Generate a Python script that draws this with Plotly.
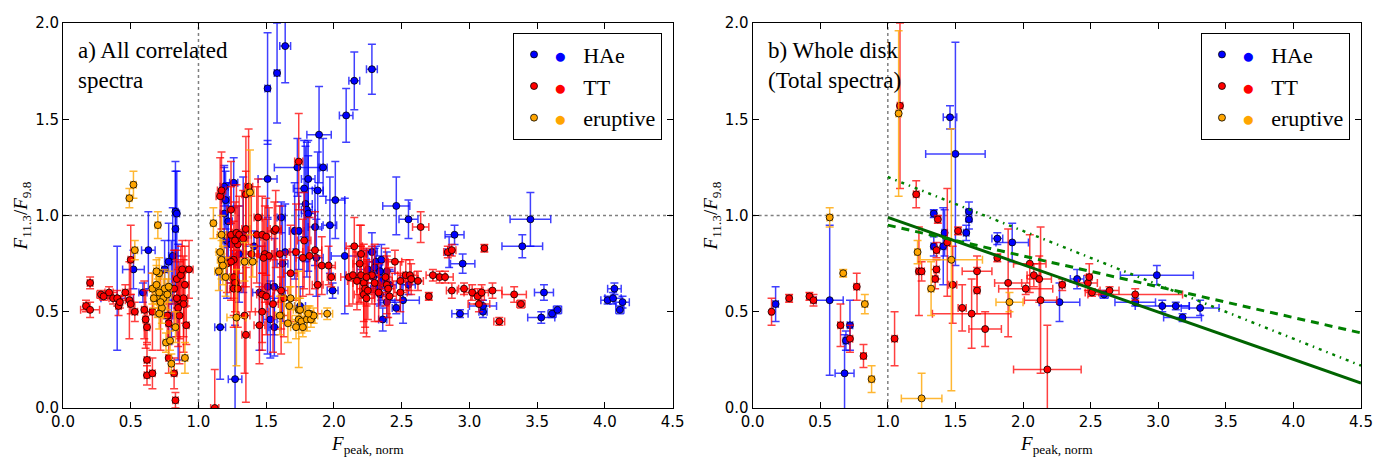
import plotly.graph_objects as go

# ---------------- data: (x, y, xerr, yerr) rows ----------------
HAE_A = [
    (0.40, 0.57, 0.12, 0.27), (0.59, 0.60, 0.03, 0.05), (0.63, 0.82, 0.05, 0.20), (0.52, 0.72, 0.08, 0.10),
    (0.83, 1.02, 0.02, 0.26), (0.84, 1.01, 0.02, 0.22), (0.83, 0.93, 0.02, 0.30), (0.81, 0.79, 0.03, 0.25),
    (0.78, 0.76, 0.02, 0.20), (0.80, 0.62, 0.03, 0.25), (0.85, 0.55, 0.02, 0.30), (0.78, 0.48, 0.03, 0.15),
    (0.75, 0.72, 0.02, 0.15), (1.16, 0.42, 0.04, 0.27), (1.27, 0.15, 0.05, 0.28), (1.19, 1.15, 0.03, 0.10),
    (1.26, 1.17, 0.03, 0.13), (1.20, 1.08, 0.03, 0.15), (1.19, 1.01, 0.03, 0.25), (1.21, 0.87, 0.03, 0.30),
    (1.24, 0.85, 0.04, 0.20), (1.22, 0.97, 0.03, 0.20), (1.30, 0.80, 0.05, 0.25), (1.41, 0.84, 0.08, 0.08),
    (1.51, 1.66, 0.02, 0.29), (1.58, 1.74, 0.02, 0.26), (1.64, 1.88, 0.04, 0.19), (1.51, 1.19, 0.07, 0.20),
    (1.73, 1.25, 0.17, 0.15), (1.89, 1.42, 0.09, 0.25), (1.92, 1.25, 0.03, 0.15), (2.09, 1.52, 0.05, 0.14),
    (2.15, 1.70, 0.04, 0.15), (2.28, 1.76, 0.04, 0.13), (1.81, 1.19, 0.05, 0.20), (1.78, 1.14, 0.08, 0.25),
    (1.88, 1.13, 0.04, 0.20), (2.01, 1.08, 0.07, 0.20), (1.97, 0.95, 0.05, 0.25), (2.46, 1.05, 0.10, 0.15),
    (2.55, 0.98, 0.07, 0.10), (1.61, 0.99, 0.03, 0.08), (1.79, 1.06, 0.05, 0.30), (1.80, 1.03, 0.04, 0.35),
    (1.81, 1.01, 0.05, 0.30), (1.86, 0.94, 0.05, 0.20), (1.71, 0.92, 0.04, 0.25), (1.74, 0.92, 0.04, 0.20),
    (1.64, 0.81, 0.06, 0.25), (1.51, 0.63, 0.04, 0.35), (1.56, 0.63, 0.04, 0.25), (1.53, 0.46, 0.05, 0.20),
    (1.56, 0.42, 0.04, 0.15), (1.75, 0.53, 0.04, 0.10), (2.08, 0.79, 0.10, 0.30), (1.99, 0.61, 0.04, 0.04),
    (1.87, 0.78, 0.05, 0.20), (2.28, 0.81, 0.04, 0.10), (2.31, 0.76, 0.05, 0.08), (2.35, 0.77, 0.04, 0.08),
    (2.30, 0.73, 0.05, 0.10), (2.34, 0.71, 0.04, 0.08), (2.39, 0.71, 0.06, 0.10), (2.35, 0.66, 0.05, 0.10),
    (2.29, 0.68, 0.06, 0.08), (2.41, 0.64, 0.05, 0.08), (2.39, 0.55, 0.06, 0.08), (2.34, 0.59, 0.04, 0.06),
    (2.36, 0.46, 0.03, 0.06), (2.46, 0.52, 0.03, 0.03), (2.51, 0.56, 0.12, 0.12), (2.55, 0.64, 0.05, 0.05),
    (2.89, 0.90, 0.07, 0.05), (2.85, 0.81, 0.03, 0.08), (2.95, 0.75, 0.09, 0.05), (3.45, 0.98, 0.15, 0.14),
    (3.39, 0.84, 0.15, 0.06), (3.55, 0.60, 0.07, 0.04), (3.53, 0.47, 0.10, 0.03), (3.61, 0.49, 0.03, 0.02),
    (3.65, 0.51, 0.03, 0.02), (4.07, 0.62, 0.05, 0.03), (4.02, 0.56, 0.05, 0.02), (4.06, 0.57, 0.06, 0.03),
    (4.13, 0.55, 0.05, 0.03), (4.11, 0.51, 0.03, 0.02), (2.93, 0.49, 0.06, 0.02), (3.10, 0.50, 0.03, 0.03),
    (3.10, 0.53, 0.10, 0.03), (2.25, 0.72, 0.08, 0.10), (2.33, 0.62, 0.06, 0.08), (1.45, 0.60, 0.05, 0.30),
    (1.33, 0.90, 0.04, 0.30), (1.62, 0.75, 0.04, 0.30),
]

TT_A = [
    (0.17, 0.53, 0.02, 0.03), (0.20, 0.51, 0.07, 0.04), (0.20, 0.65, 0.02, 0.03), (0.28, 0.59, 0.03, 0.02),
    (0.30, 0.58, 0.03, 0.02), (0.34, 0.60, 0.03, 0.03), (0.37, 0.57, 0.03, 0.03), (0.40, 0.57, 0.03, 0.04),
    (0.41, 0.53, 0.02, 0.05), (0.42, 0.55, 0.02, 0.03), (0.46, 0.60, 0.02, 0.04), (0.49, 0.56, 0.03, 0.20),
    (0.50, 0.77, 0.02, 0.18), (0.50, 0.54, 0.02, 0.05), (0.53, 0.50, 0.02, 0.05), (0.60, 0.51, 0.02, 0.15),
    (0.61, 0.46, 0.02, 0.15), (0.62, 0.42, 0.02, 0.08), (0.62, 0.25, 0.02, 0.08), (0.62, 0.17, 0.02, 0.05),
    (0.66, 0.18, 0.02, 0.08), (0.66, 0.50, 0.02, 0.20), (0.78, 0.44, 0.02, 0.10), (0.78, 0.26, 0.02, 0.08),
    (0.82, 0.18, 0.02, 0.08), (0.83, 0.04, 0.02, 0.04), (0.84, 0.67, 0.03, 0.15), (0.87, 0.69, 0.03, 0.15),
    (0.88, 0.72, 0.03, 0.15), (0.90, 0.64, 0.03, 0.20), (0.93, 0.72, 0.03, 0.15), (0.86, 0.56, 0.03, 0.20),
    (0.89, 0.57, 0.03, 0.20), (0.89, 0.54, 0.03, 0.25), (0.86, 0.48, 0.03, 0.25), (0.91, 0.43, 0.02, 0.10),
    (0.82, 0.62, 0.03, 0.20), (0.84, 0.57, 0.03, 0.20), (0.85, 0.52, 0.02, 0.20), (0.77, 0.48, 0.03, 0.15),
    (0.72, 0.50, 0.02, 0.20),
    (1.12, 0.00, 0.03, 0.20), (1.16, 1.10, 0.03, 0.20), (1.17, 1.13, 0.03, 0.20), (1.24, 1.03, 0.03, 0.25),
    (1.24, 0.90, 0.03, 0.25), (1.26, 0.77, 0.03, 0.20), (1.29, 0.85, 0.04, 0.20), (1.28, 0.91, 0.03, 0.25),
    (1.30, 0.90, 0.04, 0.20), (1.27, 0.87, 0.03, 0.20), (1.21, 0.75, 0.03, 0.15), (1.24, 0.76, 0.04, 0.20),
    (1.26, 0.68, 0.03, 0.20), (1.27, 0.65, 0.03, 0.15), (1.26, 0.62, 0.03, 0.20), (1.29, 0.62, 0.03, 0.20),
    (1.33, 0.88, 0.03, 0.25), (1.35, 0.93, 0.03, 0.30), (1.35, 1.11, 0.03, 0.30), (1.37, 1.15, 0.03, 0.30),
    (1.34, 0.48, 0.04, 0.30), (1.35, 0.38, 0.03, 0.35), (1.44, 0.99, 0.03, 0.20), (1.43, 0.90, 0.04, 0.25),
    (1.47, 0.90, 0.04, 0.20), (1.50, 0.89, 0.04, 0.20), (1.56, 0.92, 0.05, 0.15), (1.57, 0.93, 0.04, 0.20),
    (1.49, 0.80, 0.05, 0.25), (1.52, 0.79, 0.05, 0.25), (1.48, 0.78, 0.05, 0.20), (1.47, 0.59, 0.04, 0.25),
    (1.50, 0.58, 0.05, 0.20), (1.47, 0.50, 0.05, 0.20), (1.45, 0.43, 0.04, 0.20), (1.55, 0.54, 0.04, 0.25),
    (1.61, 0.61, 0.05, 0.20), (1.63, 0.57, 0.04, 0.20), (1.61, 0.48, 0.05, 0.20), (1.72, 0.81, 0.05, 0.25),
    (1.74, 1.28, 0.03, 0.25), (1.78, 0.87, 0.05, 0.25), (1.77, 0.78, 0.05, 0.20), (1.82, 0.79, 0.05, 0.20),
    (1.86, 0.82, 0.05, 0.20), (1.88, 0.64, 0.04, 0.15), (1.91, 0.74, 0.05, 0.15), (1.96, 0.74, 0.05, 0.10),
    (1.98, 0.68, 0.03, 0.05), (1.39, 0.80, 0.05, 0.30), (1.60, 0.80, 0.05, 0.25), (1.68, 0.70, 0.05, 0.25),
    (2.11, 0.68, 0.06, 0.15), (2.14, 0.69, 0.05, 0.15), (2.15, 0.84, 0.06, 0.15), (2.19, 0.75, 0.05, 0.20),
    (2.20, 0.80, 0.04, 0.15), (2.20, 0.69, 0.07, 0.15), (2.17, 0.66, 0.07, 0.15), (2.22, 0.65, 0.08, 0.20),
    (2.23, 0.62, 0.06, 0.20), (2.22, 0.59, 0.07, 0.20), (2.24, 0.57, 0.06, 0.20), (2.25, 0.61, 0.06, 0.15),
    (2.28, 0.69, 0.05, 0.15), (2.24, 0.68, 0.06, 0.15), (2.38, 0.68, 0.05, 0.15), (2.39, 0.64, 0.05, 0.15),
    (2.40, 0.62, 0.05, 0.15), (2.41, 0.58, 0.05, 0.15), (2.45, 0.76, 0.05, 0.06), (2.49, 0.66, 0.06, 0.10),
    (2.49, 0.60, 0.05, 0.10), (2.53, 0.69, 0.06, 0.08), (2.56, 0.69, 0.05, 0.08), (2.57, 0.67, 0.05, 0.08),
    (2.62, 0.66, 0.04, 0.05), (2.64, 0.94, 0.06, 0.08), (2.70, 0.58, 0.02, 0.02), (2.73, 0.69, 0.05, 0.03),
    (2.78, 0.68, 0.05, 0.03), (2.82, 0.68, 0.06, 0.03), (2.84, 0.81, 0.03, 0.03), (2.87, 0.82, 0.03, 0.03),
    (2.87, 0.61, 0.04, 0.04), (2.96, 0.62, 0.04, 0.03), (3.02, 0.60, 0.06, 0.04), (3.06, 0.58, 0.05, 0.04),
    (3.09, 0.60, 0.05, 0.04), (3.17, 0.61, 0.07, 0.04), (3.07, 0.54, 0.08, 0.04), (3.11, 0.83, 0.02, 0.02),
    (3.22, 0.45, 0.04, 0.02), (3.33, 0.59, 0.09, 0.04), (3.38, 0.54, 0.03, 0.02), (2.30, 0.65, 0.06, 0.20),
    (2.33, 0.60, 0.08, 0.15),
]

ERU_A = [
    (0.49, 1.09, 0.02, 0.05), (0.52, 1.16, 0.02, 0.07), (0.53, 0.82, 0.02, 0.05), (0.70, 0.95, 0.02, 0.07),
    (0.66, 0.62, 0.02, 0.08), (0.69, 0.64, 0.03, 0.10), (0.71, 0.70, 0.02, 0.08), (0.70, 0.57, 0.03, 0.10),
    (0.74, 0.57, 0.03, 0.10), (0.73, 0.52, 0.02, 0.08), (0.71, 0.49, 0.03, 0.08), (0.75, 0.62, 0.03, 0.10),
    (0.78, 0.63, 0.02, 0.08), (0.67, 0.57, 0.02, 0.05), (0.71, 0.60, 0.03, 0.08), (0.76, 0.34, 0.02, 0.05),
    (0.79, 0.35, 0.02, 0.05), (0.80, 0.23, 0.02, 0.05), (0.83, 0.42, 0.02, 0.08), (0.90, 0.26, 0.02, 0.08),
    (0.69, 0.71, 0.02, 0.06), (0.72, 0.55, 0.03, 0.06), (0.77, 0.59, 0.03, 0.08),
    (1.11, 0.96, 0.02, 0.08), (1.17, 0.90, 0.03, 0.10), (1.16, 0.81, 0.03, 0.08), (1.17, 0.77, 0.03, 0.10),
    (1.18, 0.74, 0.03, 0.10), (1.15, 0.71, 0.03, 0.10), (1.20, 0.68, 0.03, 0.10), (1.28, 0.47, 0.07, 0.25),
    (1.34, 0.76, 0.03, 0.10), (1.40, 0.76, 0.03, 0.08), (1.38, 1.12, 0.03, 0.22), (1.60, 0.48, 0.03, 0.10),
    (1.67, 0.53, 0.04, 0.10), (1.68, 0.57, 0.04, 0.06), (1.66, 0.44, 0.05, 0.10), (1.74, 0.51, 0.04, 0.06),
    (1.75, 0.51, 0.03, 0.06), (1.74, 0.46, 0.05, 0.25), (1.72, 0.42, 0.04, 0.06), (1.76, 0.45, 0.04, 0.06),
    (1.77, 0.42, 0.03, 0.05), (1.80, 0.46, 0.03, 0.06), (1.82, 0.49, 0.03, 0.04), (1.83, 0.46, 0.03, 0.04),
    (1.85, 0.48, 0.03, 0.04), (1.95, 0.49, 0.04, 0.03), (1.81, 0.49, 0.03, 0.04),
]

HAE_B = [
    (0.17, 0.54, 0.02, 0.09), (0.57, 0.56, 0.10, 0.39), (0.68, 0.18, 0.07, 0.20), (0.69, 0.35, 0.02, 0.05),
    (0.72, 0.43, 0.02, 0.13), (1.34, 1.01, 0.02, 0.02), (1.34, 0.84, 0.02, 0.05), (1.42, 0.91, 0.02, 0.12),
    (1.41, 0.84, 0.02, 0.20), (1.46, 1.51, 0.05, 0.06), (1.50, 1.32, 0.22, 0.58), (1.58, 0.91, 0.02, 0.04),
    (1.60, 0.98, 0.02, 0.05), (1.60, 1.02, 0.02, 0.05), (1.81, 0.88, 0.04, 0.03), (1.92, 0.86, 0.12, 0.10),
    (2.27, 0.55, 0.15, 0.10), (2.40, 0.67, 0.05, 0.05), (2.60, 0.59, 0.03, 0.02), (2.83, 0.55, 0.15, 0.02),
    (2.99, 0.69, 0.27, 0.05), (3.03, 0.53, 0.20, 0.03), (3.13, 0.53, 0.10, 0.02), (3.18, 0.47, 0.14, 0.02),
    (3.31, 0.52, 0.14, 0.04),
]

TT_B = [
    (0.14, 0.50, 0.01, 0.07), (0.27, 0.57, 0.02, 0.02), (0.42, 0.58, 0.02, 0.02), (0.45, 0.56, 0.02, 0.03),
    (0.65, 0.43, 0.02, 0.11), (0.72, 0.36, 0.02, 0.07), (0.77, 0.63, 0.02, 0.07), (0.82, 0.27, 0.02, 0.06),
    (1.09, 1.57, 0.02, 0.43), (1.21, 1.11, 0.02, 0.07), (1.05, 0.36, 0.02, 0.14), (1.23, 0.71, 0.02, 0.23),
    (1.25, 0.71, 0.02, 0.05), (1.37, 0.98, 0.02, 0.02), (1.36, 0.82, 0.02, 0.04), (1.36, 0.72, 0.02, 0.05),
    (1.35, 0.67, 0.02, 0.05), (1.44, 0.86, 0.02, 0.28), (1.52, 0.92, 0.02, 0.02), (1.48, 0.64, 0.03, 0.20),
    (1.55, 0.52, 0.03, 0.12), (1.62, 0.49, 0.29, 0.18), (1.66, 0.71, 0.11, 0.08), (1.66, 0.61, 0.02, 0.12),
    (1.72, 0.41, 0.12, 0.09), (1.81, 0.78, 0.02, 0.02), (1.89, 0.65, 0.10, 0.28), (2.02, 0.62, 0.20, 0.03),
    (2.05, 0.75, 0.12, 0.15), (2.08, 0.69, 0.05, 0.06), (2.12, 0.67, 0.09, 0.12), (2.13, 0.56, 0.12, 0.38),
    (2.18, 0.20, 0.25, 0.23), (2.29, 0.64, 0.02, 0.03), (2.48, 0.65, 0.07, 0.04), (2.49, 0.68, 0.02, 0.07),
    (2.51, 0.60, 0.05, 0.02), (2.64, 0.61, 0.07, 0.02), (2.83, 0.59, 0.35, 0.03),
]

ERU_B = [
    (0.57, 0.99, 0.02, 0.05), (0.67, 0.70, 0.02, 0.02), (0.83, 0.54, 0.02, 0.05), (0.88, 0.15, 0.02, 0.07),
    (1.08, 1.53, 0.02, 0.43), (1.22, 0.81, 0.02, 0.06), (1.32, 0.62, 0.02, 0.14), (1.47, 0.77, 0.23, 0.68),
    (1.25, 0.05, 0.15, 0.13), (1.90, 0.55, 0.10, 0.05),
]

# model relations in panel b
FIT_X = [1.0, 4.5]
FIT_SOLID_Y = [0.99, 0.13]
FIT_DASH_Y = [0.95, 0.39]
FIT_DOT_Y = [1.20, 0.22]

GROUPS = ["HAe", "TT", "eruptive"]
COLORS = {"HAe": "#0000ff", "TT": "#ff0000", "eruptive": "#ffa500"}
BAR_COLORS = {"HAe": "rgba(0,0,255,0.75)", "TT": "rgba(255,0,0,0.75)", "eruptive": "rgba(255,165,0,0.8)"}

X_TICKS = [0.0, 0.5, 1.0, 1.5, 2.0, 2.5, 3.0, 3.5, 4.0, 4.5]
Y_TICKS = [0.0, 0.5, 1.0, 1.5, 2.0]

SERIF = "Liberation Serif, DejaVu Serif, serif"
SANS = "DejaVu Sans, sans-serif"
NB = "\u00a0"

fig = go.Figure()

panels = [
    ("x", "y", "legend", {"HAe": HAE_A, "TT": TT_A, "eruptive": ERU_A}),
    ("x2", "y2", "legend2", {"HAe": HAE_B, "TT": TT_B, "eruptive": ERU_B}),
]

for xa, ya, leg, data in panels:
    for g in GROUPS:
        rows = data[g]
        xs, ys, xe, ye = zip(*rows)
        # matplotlib-style legend with two marker points per entry
        label = (f'<span style="color:{COLORS[g]};font-size:21px">●</span>'
                 + NB * 3 + g)
        fig.add_trace(go.Scatter(
            x=xs, y=ys, mode="markers", name=label, xaxis=xa, yaxis=ya, legend=leg,
            marker=dict(size=7, color=COLORS[g], line=dict(color="black", width=0.8)),
            error_x=dict(type="data", array=xe, color=BAR_COLORS[g], thickness=1.5, width=4),
            error_y=dict(type="data", array=ye, color=BAR_COLORS[g], thickness=1.5, width=4),
            cliponaxis=True,
        ))

for yv, color, dash, w in [(FIT_SOLID_Y, "#006400", "solid", 3),
                           (FIT_DASH_Y, "#008000", "8px,6px", 3),
                           (FIT_DOT_Y, "#008000", "3px,5px,1.5px,5px", 2.5)]:
    fig.add_trace(go.Scatter(x=FIT_X, y=yv, mode="lines", xaxis="x2", yaxis="y2",
                             line=dict(color=color, width=w, dash=dash), showlegend=False,
                             hoverinfo="skip"))

# reference dotted lines at 1.0
for xr, yr in [("x", "y"), ("x2", "y2")]:
    fig.add_shape(type="line", xref=xr, yref=yr + " domain", x0=1, x1=1, y0=0, y1=1,
                  line=dict(color="grey", width=1.5, dash="dot"), layer="below")
    fig.add_shape(type="line", xref=xr + " domain", yref=yr, x0=0, x1=1, y0=1, y1=1,
                  line=dict(color="grey", width=1.5, dash="dot"), layer="below")

axis_common = dict(
    range=[0, 4.5], tickvals=X_TICKS, ticktext=[f"{v:.1f}" for v in X_TICKS],
    ticks="inside", ticklen=6, tickcolor="black", showline=True, linecolor="black", linewidth=1,
    mirror="allticks", showgrid=False, zeroline=False,
    tickfont=dict(family=SANS, size=15, color="black"),
)
yaxis_common = dict(
    range=[0, 2.0], tickvals=Y_TICKS, ticktext=[f"{v:.1f}" for v in Y_TICKS],
    ticks="inside", ticklen=6, tickcolor="black", showline=True, linecolor="black", linewidth=1,
    mirror="allticks", showgrid=False, zeroline=False,
    tickfont=dict(family=SANS, size=15, color="black"),
)
xtitle = dict(text="<i>F</i><sub>peak, norm</sub>", font=dict(family=SERIF, size=19, color="black"), standoff=6)
ytitle = dict(text="<i>F</i><sub>11.3</sub>/<i>F</i><sub>9.8</sub>", font=dict(family=SERIF, size=19, color="black"), standoff=2)

legend_common = dict(
    bgcolor="white", bordercolor="black", borderwidth=1,
    font=dict(family=SERIF, size=22, color="black"),
    xanchor="right", yanchor="top", y=0.975, tracegroupgap=0, itemwidth=30,
    itemsizing="trace",
)

fig.update_layout(
    width=1386, height=462,
    margin=dict(l=63, r=25, t=23, b=46),
    plot_bgcolor="white", paper_bgcolor="white",
    xaxis=dict(domain=[0, 0.4697], anchor="y", title=xtitle, **axis_common),
    yaxis=dict(domain=[0, 1], anchor="x", title=ytitle, **yaxis_common),
    xaxis2=dict(domain=[0.5313, 1], anchor="y2", title=xtitle, **axis_common),
    yaxis2=dict(domain=[0, 1], anchor="x2", title=ytitle, **yaxis_common),
    legend=dict(x=0.4615, **legend_common),
    legend2=dict(x=0.9915, **legend_common),
    annotations=[
        dict(text="a) All correlated<br>spectra", xref="x domain", yref="y domain", x=0.022, y=0.965,
             xanchor="left", yanchor="top", align="left", showarrow=False,
             font=dict(family=SERIF, size=23, color="black")),
        dict(text="b) Whole disk<br>(Total spectra)", xref="x2 domain", yref="y2 domain", x=0.022, y=0.965,
             xanchor="left", yanchor="top", align="left", showarrow=False,
             font=dict(family=SERIF, size=23, color="black")),
    ],
    showlegend=True,
)

fig.write_html("out.html")
